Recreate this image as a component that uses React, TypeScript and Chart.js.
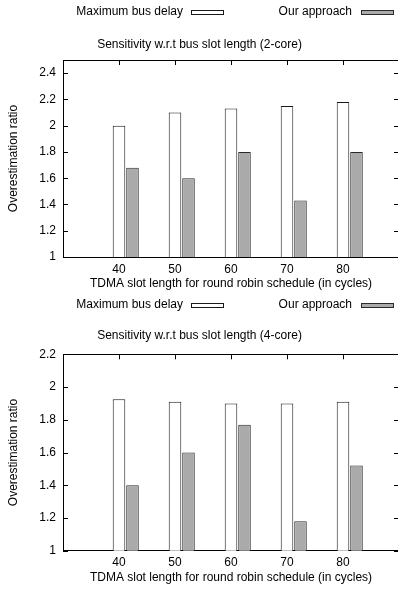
import React, { useEffect, useRef } from 'react';
import { Chart, registerables } from 'chart.js';

Chart.register(...registerables);

// ---------- data ----------
const xCategories = [40, 50, 60, 70, 80];
const xMin = 30;
const xMax = 90;
const seriesNames = ['Maximum bus delay', 'Our approach'];

const maxBusDelay2Core = [2.0, 2.1, 2.13, 2.15, 2.18];
const ourApproach2Core = [1.68, 1.6, 1.8, 1.43, 1.8];
const yTicks2Core = [1, 1.2, 1.4, 1.6, 1.8, 2, 2.2, 2.4];
const yMin2Core = 1;
const yMax2Core = 2.5;

const maxBusDelay4Core = [1.925, 1.91, 1.9, 1.9, 1.91];
const ourApproach4Core = [1.4, 1.6, 1.77, 1.18, 1.52];
const yTicks4Core = [1, 1.2, 1.4, 1.6, 1.8, 2, 2.2];
const yMin4Core = 1;
const yMax4Core = 2.2;

const title2Core = 'Sensitivity w.r.t bus slot length (2-core)';
const title4Core = 'Sensitivity w.r.t bus slot length (4-core)';
const xAxisTitle = 'TDMA slot length for round robin schedule (in cycles)';
const yAxisTitle = 'Overestimation ratio';

// ---------- styles ----------
const FONT = "'Liberation Sans', Arial, Helvetica, sans-serif";
const WHITE_FILL = '#ffffff';
const WHITE_BORDER = '#1a1a1a';
const GRAY_FILL = '#a9aaa9';
const GRAY_BORDER = '#2a2a2a';
const TICK = 5;

const framePlugin = {
  id: 'gnuFrame',
  afterDatasetsDraw(chart: any) {
    const { ctx, chartArea: a, scales } = chart;
    const x = scales.x;
    const y = scales.y;
    ctx.save();
    ctx.strokeStyle = '#000';
    ctx.lineWidth = 1;
    ctx.beginPath();
    const top = Math.round(a.top) + 0.5;
    ctx.moveTo(a.left, top);
    ctx.lineTo(a.right + 1, top);
    y.ticks.forEach((t: any) => {
      const py = Math.round(y.getPixelForValue(t.value)) + 0.5;
      ctx.moveTo(a.left, py);
      ctx.lineTo(a.left + TICK, py);
      ctx.moveTo(a.right - TICK, py);
      ctx.lineTo(a.right, py);
    });
    x.ticks.forEach((t: any) => {
      const px = Math.round(x.getPixelForValue(t.value)) + 0.5;
      ctx.moveTo(px, a.top);
      ctx.lineTo(px, a.top + TICK);
    });
    ctx.stroke();
    ctx.restore();
  },
};

// key: text right-aligned, sample box to the right of it (gnuplot style)
const legendPlugin = {
  id: 'gnuLegend',
  afterDraw(chart: any, _args: any, opts: any) {
    const { ctx, chartArea: a } = chart;
    const textRight = [120, 289];
    const boxLeft = [128, 298];
    const boxW = 32;
    const boxH = 4;
    const items = chart.data.datasets.filter((d: any) => d.label);
    ctx.save();
    ctx.font = `12px ${FONT}`;
    ctx.textAlign = 'right';
    ctx.textBaseline = 'middle';
    items.forEach((d: any, i: number) => {
      ctx.fillStyle = '#000';
      ctx.fillText(d.label, a.left + textRight[i], opts.y);
      const bx = Math.round(a.left + boxLeft[i]) + 0.5;
      const by = Math.round(opts.boxY - boxH / 2) + 0.5;
      ctx.fillStyle = d.backgroundColor;
      ctx.fillRect(bx, by, boxW, boxH);
      ctx.strokeStyle = d.borderColor;
      ctx.lineWidth = 1;
      ctx.strokeRect(bx, by, boxW, boxH);
    });
    ctx.restore();
  },
};

type PanelProps = {
  top: number; height: number; title: string; white: number[]; gray: number[];
  yTicks: number[]; yMin: number; yMax: number; layoutTop: number; titlePadBottom: number;
  xAxisHeight: number; xTitlePadBottom: number; legendY: number; legendBoxY: number;
};

const CANVAS_W = 462;

function Panel(p: PanelProps) {
  const ref = useRef<HTMLCanvasElement | null>(null);
  useEffect(() => {
    if (!ref.current) return;
    const chart = new Chart(ref.current, {
      type: 'bar',
      data: {
        labels: xCategories,
        datasets: [
          { label: '', data: xCategories.map(() => null), backgroundColor: 'rgba(0,0,0,0)', borderWidth: 0 },
          { label: seriesNames[0], data: p.white, backgroundColor: WHITE_FILL, borderColor: WHITE_BORDER, borderWidth: 1 },
          { label: seriesNames[1], data: p.gray, backgroundColor: GRAY_FILL, borderColor: GRAY_BORDER, borderWidth: 1 },
        ] as any,
      },
      plugins: [framePlugin, legendPlugin],
      options: {
        animation: false, responsive: false, devicePixelRatio: 1, events: [],
        categoryPercentage: 0.723, barPercentage: 0.93,
        layout: { padding: { left: 0, right: 63, top: p.layoutTop, bottom: 0 } },
        font: { family: FONT, size: 12 }, color: '#000',
        plugins: {
          legend: { display: false }, tooltip: { enabled: false },
          title: { display: true, text: p.title, color: '#000', font: { family: FONT, size: 12, weight: 'normal' as any, lineHeight: 1.2 }, padding: { top: 0, bottom: p.titlePadBottom } },
          gnuLegend: { y: p.legendY, boxY: p.legendBoxY },
        } as any,
        scales: {
          x: {
            type: 'linear', min: xMin, max: xMax, offset: false,
            grid: { display: false, drawTicks: false },
            border: { display: true, color: '#000', width: 1 },
            ticks: { color: '#000', font: { family: FONT, size: 12 }, padding: 5, maxRotation: 0, autoSkip: false, callback: (v: any) => String(v) },
            afterBuildTicks: (s: any) => { s.ticks = xCategories.map((v) => ({ value: v })); },
            afterFit: (s: any) => { s.height = p.xAxisHeight; },
            title: { display: true, text: xAxisTitle, color: '#000', font: { family: FONT, size: 12, lineHeight: 1.2 }, padding: { top: 0, bottom: p.xTitlePadBottom } },
          },
          y: {
            type: 'linear', min: p.yMin, max: p.yMax,
            grid: { display: false, drawTicks: false },
            border: { display: true, color: '#000', width: 1 },
            ticks: { color: '#000', font: { family: FONT, size: 12 }, padding: 7, autoSkip: false, callback: (v: any) => String(v) },
            afterBuildTicks: (s: any) => { s.ticks = p.yTicks.map((v) => ({ value: v })); },
            afterFit: (s: any) => { s.width = 63; },
            title: { display: true, text: yAxisTitle, color: '#000', font: { family: FONT, size: 12, lineHeight: 1.2 }, padding: { top: 6, bottom: 0 } },
          },
        } as any,
      },
    });
    return () => chart.destroy();
  }, []);
  return (
    <div style={{ position: 'absolute', left: 0, top: p.top, width: CANVAS_W, height: p.height }}>
      <canvas ref={ref} width={CANVAS_W} height={p.height} style={{ display: 'block' }} />
    </div>
  );
}

export default function App() {
  return (
    <div style={{ position: 'absolute', left: 0, top: 0, width: 398, height: 591, overflow: 'hidden', background: '#fff' }}>
      <Panel top={0} height={294} title={title2Core} white={maxBusDelay2Core} gray={ourApproach2Core}
        yTicks={yTicks2Core} yMin={yMin2Core} yMax={yMax2Core} layoutTop={37} titlePadBottom={8.6}
        xAxisHeight={37} xTitlePadBottom={3.2} legendY={11.5} legendBoxY={11.5} />
      <Panel top={294} height={297} title={title4Core} white={maxBusDelay4Core} gray={ourApproach4Core}
        yTicks={yTicks4Core} yMin={yMin4Core} yMax={yMax4Core} layoutTop={34.5} titlePadBottom={11.4}
        xAxisHeight={40.3} xTitlePadBottom={6.2} legendY={11} legendBoxY={11.3} />
    </div>
  );
}
